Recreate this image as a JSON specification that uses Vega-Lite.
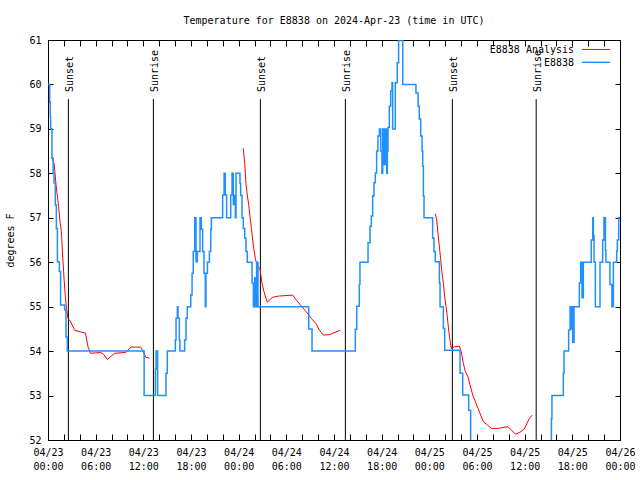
{
  "$schema": "https://vega.github.io/schema/vega-lite/v6.json",
  "width": 572,
  "height": 400,
  "autosize": {"type": "none"},
  "padding": {"left": 48, "top": 40, "right": 20, "bottom": 40},
  "background": "white",
  "title": {"text": "Temperature for E8838 on 2024-Apr-23 (time in UTC)", "font": "DejaVu Sans Mono", "fontSize": 10, "fontWeight": "normal", "color": "black", "baseline": "alphabetic", "offset": 1},
  "config": {
    "view": {"stroke": "black", "strokeWidth": 1},
    "axis": {"grid": false, "domainColor": "black", "domainWidth": 1, "tickColor": "black", "tickWidth": 1, "labelColor": "black", "labelFont": "DejaVu Sans Mono", "labelFontSize": 10, "titleFont": "DejaVu Sans Mono", "titleFontSize": 10, "titleFontWeight": "normal", "titleColor": "black"},
    "text": {"font": "DejaVu Sans Mono", "fontSize": 10, "color": "black"}
  },
  "datasets": {
    "legend": [{"series": "E8838 Analysis"}],
    "sun": [
      {"t": "2024-04-23T02:34:00Z", "label": "Sunset"},
      {"t": "2024-04-23T13:16:00Z", "label": "Sunrise"},
      {"t": "2024-04-24T02:44:00Z", "label": "Sunset"},
      {"t": "2024-04-24T13:26:00Z", "label": "Sunrise"},
      {"t": "2024-04-25T02:54:00Z", "label": "Sunset"},
      {"t": "2024-04-25T13:27:00Z", "label": "Sunrise"}
    ],
    "analysis": [
      {"t": "2024-04-23T00:25:00Z", "v": 58.37, "seg": 1, "series": "E8838 Analysis"},
      {"t": "2024-04-23T00:46:00Z", "v": 58.22, "seg": 1, "series": "E8838 Analysis"},
      {"t": "2024-04-23T01:01:00Z", "v": 57.74, "seg": 1, "series": "E8838 Analysis"},
      {"t": "2024-04-23T01:10:00Z", "v": 57.51, "seg": 1, "series": "E8838 Analysis"},
      {"t": "2024-04-23T01:20:00Z", "v": 57.25, "seg": 1, "series": "E8838 Analysis"},
      {"t": "2024-04-23T01:31:00Z", "v": 56.91, "seg": 1, "series": "E8838 Analysis"},
      {"t": "2024-04-23T01:41:00Z", "v": 56.69, "seg": 1, "series": "E8838 Analysis"},
      {"t": "2024-04-23T01:51:00Z", "v": 56.12, "seg": 1, "series": "E8838 Analysis"},
      {"t": "2024-04-23T02:01:00Z", "v": 55.64, "seg": 1, "series": "E8838 Analysis"},
      {"t": "2024-04-23T02:11:00Z", "v": 55.22, "seg": 1, "series": "E8838 Analysis"},
      {"t": "2024-04-23T02:21:00Z", "v": 54.93, "seg": 1, "series": "E8838 Analysis"},
      {"t": "2024-04-23T02:31:00Z", "v": 54.74, "seg": 1, "series": "E8838 Analysis"},
      {"t": "2024-04-23T02:51:00Z", "v": 54.66, "seg": 1, "series": "E8838 Analysis"},
      {"t": "2024-04-23T03:22:00Z", "v": 54.47, "seg": 1, "series": "E8838 Analysis"},
      {"t": "2024-04-23T04:07:00Z", "v": 54.43, "seg": 1, "series": "E8838 Analysis"},
      {"t": "2024-04-23T04:42:00Z", "v": 54.41, "seg": 1, "series": "E8838 Analysis"},
      {"t": "2024-04-23T05:02:00Z", "v": 54.1, "seg": 1, "series": "E8838 Analysis"},
      {"t": "2024-04-23T05:22:00Z", "v": 53.95, "seg": 1, "series": "E8838 Analysis"},
      {"t": "2024-04-23T06:00:00Z", "v": 53.96, "seg": 1, "series": "E8838 Analysis"},
      {"t": "2024-04-23T06:38:00Z", "v": 53.97, "seg": 1, "series": "E8838 Analysis"},
      {"t": "2024-04-23T07:00:00Z", "v": 53.93, "seg": 1, "series": "E8838 Analysis"},
      {"t": "2024-04-23T07:28:00Z", "v": 53.81, "seg": 1, "series": "E8838 Analysis"},
      {"t": "2024-04-23T07:54:00Z", "v": 53.88, "seg": 1, "series": "E8838 Analysis"},
      {"t": "2024-04-23T08:23:00Z", "v": 53.95, "seg": 1, "series": "E8838 Analysis"},
      {"t": "2024-04-23T09:47:00Z", "v": 53.97, "seg": 1, "series": "E8838 Analysis"},
      {"t": "2024-04-23T10:25:00Z", "v": 54.09, "seg": 1, "series": "E8838 Analysis"},
      {"t": "2024-04-23T11:40:00Z", "v": 54.09, "seg": 1, "series": "E8838 Analysis"},
      {"t": "2024-04-23T12:00:00Z", "v": 53.98, "seg": 1, "series": "E8838 Analysis"},
      {"t": "2024-04-23T12:20:00Z", "v": 53.86, "seg": 1, "series": "E8838 Analysis"},
      {"t": "2024-04-23T12:46:00Z", "v": 53.84, "seg": 1, "series": "E8838 Analysis"},
      {"t": "2024-04-24T00:35:00Z", "v": 58.56, "seg": 2, "series": "E8838 Analysis"},
      {"t": "2024-04-24T00:46:00Z", "v": 58.22, "seg": 2, "series": "E8838 Analysis"},
      {"t": "2024-04-24T00:55:00Z", "v": 57.77, "seg": 2, "series": "E8838 Analysis"},
      {"t": "2024-04-24T01:05:00Z", "v": 57.51, "seg": 2, "series": "E8838 Analysis"},
      {"t": "2024-04-24T01:16:00Z", "v": 57.29, "seg": 2, "series": "E8838 Analysis"},
      {"t": "2024-04-24T01:26:00Z", "v": 57.02, "seg": 2, "series": "E8838 Analysis"},
      {"t": "2024-04-24T01:36:00Z", "v": 56.76, "seg": 2, "series": "E8838 Analysis"},
      {"t": "2024-04-24T01:46:00Z", "v": 56.5, "seg": 2, "series": "E8838 Analysis"},
      {"t": "2024-04-24T01:56:00Z", "v": 56.27, "seg": 2, "series": "E8838 Analysis"},
      {"t": "2024-04-24T02:06:00Z", "v": 56.09, "seg": 2, "series": "E8838 Analysis"},
      {"t": "2024-04-24T02:16:00Z", "v": 55.95, "seg": 2, "series": "E8838 Analysis"},
      {"t": "2024-04-24T02:41:00Z", "v": 55.85, "seg": 2, "series": "E8838 Analysis"},
      {"t": "2024-04-24T02:56:00Z", "v": 55.53, "seg": 2, "series": "E8838 Analysis"},
      {"t": "2024-04-24T03:11:00Z", "v": 55.34, "seg": 2, "series": "E8838 Analysis"},
      {"t": "2024-04-24T03:26:00Z", "v": 55.19, "seg": 2, "series": "E8838 Analysis"},
      {"t": "2024-04-24T03:37:00Z", "v": 55.1, "seg": 2, "series": "E8838 Analysis"},
      {"t": "2024-04-24T03:52:00Z", "v": 55.15, "seg": 2, "series": "E8838 Analysis"},
      {"t": "2024-04-24T04:17:00Z", "v": 55.21, "seg": 2, "series": "E8838 Analysis"},
      {"t": "2024-04-24T05:07:00Z", "v": 55.24, "seg": 2, "series": "E8838 Analysis"},
      {"t": "2024-04-24T05:58:00Z", "v": 55.25, "seg": 2, "series": "E8838 Analysis"},
      {"t": "2024-04-24T06:48:00Z", "v": 55.26, "seg": 2, "series": "E8838 Analysis"},
      {"t": "2024-04-24T07:13:00Z", "v": 55.16, "seg": 2, "series": "E8838 Analysis"},
      {"t": "2024-04-24T07:51:00Z", "v": 55.02, "seg": 2, "series": "E8838 Analysis"},
      {"t": "2024-04-24T08:29:00Z", "v": 54.89, "seg": 2, "series": "E8838 Analysis"},
      {"t": "2024-04-24T09:07:00Z", "v": 54.74, "seg": 2, "series": "E8838 Analysis"},
      {"t": "2024-04-24T09:44:00Z", "v": 54.62, "seg": 2, "series": "E8838 Analysis"},
      {"t": "2024-04-24T10:10:00Z", "v": 54.47, "seg": 2, "series": "E8838 Analysis"},
      {"t": "2024-04-24T10:40:00Z", "v": 54.36, "seg": 2, "series": "E8838 Analysis"},
      {"t": "2024-04-24T11:25:00Z", "v": 54.37, "seg": 2, "series": "E8838 Analysis"},
      {"t": "2024-04-24T12:15:00Z", "v": 54.43, "seg": 2, "series": "E8838 Analysis"},
      {"t": "2024-04-24T12:48:00Z", "v": 54.47, "seg": 2, "series": "E8838 Analysis"},
      {"t": "2024-04-25T00:45:00Z", "v": 57.09, "seg": 3, "series": "E8838 Analysis"},
      {"t": "2024-04-25T00:56:00Z", "v": 56.95, "seg": 3, "series": "E8838 Analysis"},
      {"t": "2024-04-25T01:05:00Z", "v": 56.65, "seg": 3, "series": "E8838 Analysis"},
      {"t": "2024-04-25T01:16:00Z", "v": 56.35, "seg": 3, "series": "E8838 Analysis"},
      {"t": "2024-04-25T01:26:00Z", "v": 56.05, "seg": 3, "series": "E8838 Analysis"},
      {"t": "2024-04-25T01:36:00Z", "v": 55.75, "seg": 3, "series": "E8838 Analysis"},
      {"t": "2024-04-25T01:46:00Z", "v": 55.53, "seg": 3, "series": "E8838 Analysis"},
      {"t": "2024-04-25T01:56:00Z", "v": 55.22, "seg": 3, "series": "E8838 Analysis"},
      {"t": "2024-04-25T02:06:00Z", "v": 55.0, "seg": 3, "series": "E8838 Analysis"},
      {"t": "2024-04-25T02:16:00Z", "v": 54.77, "seg": 3, "series": "E8838 Analysis"},
      {"t": "2024-04-25T02:26:00Z", "v": 54.47, "seg": 3, "series": "E8838 Analysis"},
      {"t": "2024-04-25T02:36:00Z", "v": 54.25, "seg": 3, "series": "E8838 Analysis"},
      {"t": "2024-04-25T02:46:00Z", "v": 54.06, "seg": 3, "series": "E8838 Analysis"},
      {"t": "2024-04-25T03:11:00Z", "v": 54.1, "seg": 3, "series": "E8838 Analysis"},
      {"t": "2024-04-25T03:47:00Z", "v": 54.11, "seg": 3, "series": "E8838 Analysis"},
      {"t": "2024-04-25T04:02:00Z", "v": 53.98, "seg": 3, "series": "E8838 Analysis"},
      {"t": "2024-04-25T04:17:00Z", "v": 53.72, "seg": 3, "series": "E8838 Analysis"},
      {"t": "2024-04-25T04:32:00Z", "v": 53.54, "seg": 3, "series": "E8838 Analysis"},
      {"t": "2024-04-25T04:52:00Z", "v": 53.42, "seg": 3, "series": "E8838 Analysis"},
      {"t": "2024-04-25T05:07:00Z", "v": 53.24, "seg": 3, "series": "E8838 Analysis"},
      {"t": "2024-04-25T05:28:00Z", "v": 53.01, "seg": 3, "series": "E8838 Analysis"},
      {"t": "2024-04-25T05:48:00Z", "v": 52.86, "seg": 3, "series": "E8838 Analysis"},
      {"t": "2024-04-25T06:08:00Z", "v": 52.71, "seg": 3, "series": "E8838 Analysis"},
      {"t": "2024-04-25T06:28:00Z", "v": 52.56, "seg": 3, "series": "E8838 Analysis"},
      {"t": "2024-04-25T06:48:00Z", "v": 52.41, "seg": 3, "series": "E8838 Analysis"},
      {"t": "2024-04-25T07:18:00Z", "v": 52.34, "seg": 3, "series": "E8838 Analysis"},
      {"t": "2024-04-25T07:49:00Z", "v": 52.26, "seg": 3, "series": "E8838 Analysis"},
      {"t": "2024-04-25T08:38:00Z", "v": 52.26, "seg": 3, "series": "E8838 Analysis"},
      {"t": "2024-04-25T09:17:00Z", "v": 52.28, "seg": 3, "series": "E8838 Analysis"},
      {"t": "2024-04-25T09:54:00Z", "v": 52.3, "seg": 3, "series": "E8838 Analysis"},
      {"t": "2024-04-25T10:14:00Z", "v": 52.24, "seg": 3, "series": "E8838 Analysis"},
      {"t": "2024-04-25T10:50:00Z", "v": 52.13, "seg": 3, "series": "E8838 Analysis"},
      {"t": "2024-04-25T11:22:00Z", "v": 52.17, "seg": 3, "series": "E8838 Analysis"},
      {"t": "2024-04-25T11:55:00Z", "v": 52.24, "seg": 3, "series": "E8838 Analysis"},
      {"t": "2024-04-25T12:15:00Z", "v": 52.36, "seg": 3, "series": "E8838 Analysis"},
      {"t": "2024-04-25T12:35:00Z", "v": 52.48, "seg": 3, "series": "E8838 Analysis"},
      {"t": "2024-04-25T12:56:00Z", "v": 52.56, "seg": 3, "series": "E8838 Analysis"}
    ],
    "obs": [
      {"t": "2024-04-23T00:00:00Z", "v": 60.0, "series": "E8838"},
      {"t": "2024-04-23T00:13:00Z", "v": 59.6, "series": "E8838"},
      {"t": "2024-04-23T00:17:00Z", "v": 59.27, "series": "E8838"},
      {"t": "2024-04-23T00:20:00Z", "v": 59.0, "series": "E8838"},
      {"t": "2024-04-23T00:30:00Z", "v": 58.34, "series": "E8838"},
      {"t": "2024-04-23T00:39:00Z", "v": 58.0, "series": "E8838"},
      {"t": "2024-04-23T00:46:00Z", "v": 57.78, "series": "E8838"},
      {"t": "2024-04-23T00:55:00Z", "v": 57.29, "series": "E8838"},
      {"t": "2024-04-23T01:03:00Z", "v": 56.76, "series": "E8838"},
      {"t": "2024-04-23T01:11:00Z", "v": 56.01, "series": "E8838"},
      {"t": "2024-04-23T01:26:00Z", "v": 55.79, "series": "E8838"},
      {"t": "2024-04-23T01:35:00Z", "v": 55.04, "series": "E8838"},
      {"t": "2024-04-23T02:06:00Z", "v": 54.93, "series": "E8838"},
      {"t": "2024-04-23T02:16:00Z", "v": 54.32, "series": "E8838"},
      {"t": "2024-04-23T02:26:00Z", "v": 54.0, "series": "E8838"},
      {"t": "2024-04-23T12:06:00Z", "v": 53.0, "series": "E8838"},
      {"t": "2024-04-23T13:31:00Z", "v": 53.6, "series": "E8838"},
      {"t": "2024-04-23T13:36:00Z", "v": 54.0, "series": "E8838"},
      {"t": "2024-04-23T13:48:00Z", "v": 53.0, "series": "E8838"},
      {"t": "2024-04-23T14:51:00Z", "v": 53.5, "series": "E8838"},
      {"t": "2024-04-23T15:01:00Z", "v": 54.0, "series": "E8838"},
      {"t": "2024-04-23T16:02:00Z", "v": 54.25, "series": "E8838"},
      {"t": "2024-04-23T16:07:00Z", "v": 54.74, "series": "E8838"},
      {"t": "2024-04-23T16:17:00Z", "v": 55.0, "series": "E8838"},
      {"t": "2024-04-23T16:22:00Z", "v": 54.74, "series": "E8838"},
      {"t": "2024-04-23T16:32:00Z", "v": 54.25, "series": "E8838"},
      {"t": "2024-04-23T16:36:00Z", "v": 54.0, "series": "E8838"},
      {"t": "2024-04-23T17:12:00Z", "v": 54.25, "series": "E8838"},
      {"t": "2024-04-23T17:22:00Z", "v": 54.74, "series": "E8838"},
      {"t": "2024-04-23T17:32:00Z", "v": 55.0, "series": "E8838"},
      {"t": "2024-04-23T17:58:00Z", "v": 55.26, "series": "E8838"},
      {"t": "2024-04-23T18:08:00Z", "v": 55.75, "series": "E8838"},
      {"t": "2024-04-23T18:17:00Z", "v": 56.24, "series": "E8838"},
      {"t": "2024-04-23T18:28:00Z", "v": 57.0, "series": "E8838"},
      {"t": "2024-04-23T18:38:00Z", "v": 56.01, "series": "E8838"},
      {"t": "2024-04-23T18:48:00Z", "v": 56.24, "series": "E8838"},
      {"t": "2024-04-23T19:08:00Z", "v": 57.0, "series": "E8838"},
      {"t": "2024-04-23T19:18:00Z", "v": 56.74, "series": "E8838"},
      {"t": "2024-04-23T19:28:00Z", "v": 56.24, "series": "E8838"},
      {"t": "2024-04-23T19:38:00Z", "v": 55.75, "series": "E8838"},
      {"t": "2024-04-23T19:48:00Z", "v": 55.0, "series": "E8838"},
      {"t": "2024-04-23T19:53:00Z", "v": 55.75, "series": "E8838"},
      {"t": "2024-04-23T20:04:00Z", "v": 56.0, "series": "E8838"},
      {"t": "2024-04-23T20:19:00Z", "v": 56.24, "series": "E8838"},
      {"t": "2024-04-23T20:29:00Z", "v": 56.74, "series": "E8838"},
      {"t": "2024-04-23T20:34:00Z", "v": 57.0, "series": "E8838"},
      {"t": "2024-04-23T21:59:00Z", "v": 57.51, "series": "E8838"},
      {"t": "2024-04-23T22:10:00Z", "v": 58.0, "series": "E8838"},
      {"t": "2024-04-23T22:19:00Z", "v": 57.51, "series": "E8838"},
      {"t": "2024-04-23T22:29:00Z", "v": 57.0, "series": "E8838"},
      {"t": "2024-04-23T23:00:00Z", "v": 57.51, "series": "E8838"},
      {"t": "2024-04-23T23:10:00Z", "v": 58.0, "series": "E8838"},
      {"t": "2024-04-23T23:20:00Z", "v": 57.3, "series": "E8838"},
      {"t": "2024-04-23T23:30:00Z", "v": 57.5, "series": "E8838"},
      {"t": "2024-04-23T23:35:00Z", "v": 57.0, "series": "E8838"},
      {"t": "2024-04-23T23:40:00Z", "v": 58.0, "series": "E8838"},
      {"t": "2024-04-24T00:10:00Z", "v": 57.77, "series": "E8838"},
      {"t": "2024-04-24T00:15:00Z", "v": 57.5, "series": "E8838"},
      {"t": "2024-04-24T00:25:00Z", "v": 57.0, "series": "E8838"},
      {"t": "2024-04-24T00:35:00Z", "v": 56.76, "series": "E8838"},
      {"t": "2024-04-24T00:46:00Z", "v": 56.54, "series": "E8838"},
      {"t": "2024-04-24T00:55:00Z", "v": 56.24, "series": "E8838"},
      {"t": "2024-04-24T01:05:00Z", "v": 56.0, "series": "E8838"},
      {"t": "2024-04-24T01:41:00Z", "v": 55.53, "series": "E8838"},
      {"t": "2024-04-24T01:51:00Z", "v": 55.0, "series": "E8838"},
      {"t": "2024-04-24T02:01:00Z", "v": 55.65, "series": "E8838"},
      {"t": "2024-04-24T02:11:00Z", "v": 55.0, "series": "E8838"},
      {"t": "2024-04-24T02:16:00Z", "v": 56.0, "series": "E8838"},
      {"t": "2024-04-24T02:26:00Z", "v": 55.0, "series": "E8838"},
      {"t": "2024-04-24T08:49:00Z", "v": 54.5, "series": "E8838"},
      {"t": "2024-04-24T09:14:00Z", "v": 54.0, "series": "E8838"},
      {"t": "2024-04-24T14:41:00Z", "v": 54.49, "series": "E8838"},
      {"t": "2024-04-24T14:52:00Z", "v": 55.01, "series": "E8838"},
      {"t": "2024-04-24T15:11:00Z", "v": 55.5, "series": "E8838"},
      {"t": "2024-04-24T15:16:00Z", "v": 56.0, "series": "E8838"},
      {"t": "2024-04-24T16:17:00Z", "v": 56.44, "series": "E8838"},
      {"t": "2024-04-24T16:32:00Z", "v": 56.81, "series": "E8838"},
      {"t": "2024-04-24T16:42:00Z", "v": 57.04, "series": "E8838"},
      {"t": "2024-04-24T16:52:00Z", "v": 57.49, "series": "E8838"},
      {"t": "2024-04-24T17:02:00Z", "v": 57.79, "series": "E8838"},
      {"t": "2024-04-24T17:12:00Z", "v": 58.01, "series": "E8838"},
      {"t": "2024-04-24T17:22:00Z", "v": 58.5, "series": "E8838"},
      {"t": "2024-04-24T17:32:00Z", "v": 58.84, "series": "E8838"},
      {"t": "2024-04-24T17:43:00Z", "v": 59.0, "series": "E8838"},
      {"t": "2024-04-24T17:53:00Z", "v": 58.5, "series": "E8838"},
      {"t": "2024-04-24T18:02:00Z", "v": 58.0, "series": "E8838"},
      {"t": "2024-04-24T18:08:00Z", "v": 59.0, "series": "E8838"},
      {"t": "2024-04-24T18:18:00Z", "v": 58.2, "series": "E8838"},
      {"t": "2024-04-24T18:28:00Z", "v": 59.0, "series": "E8838"},
      {"t": "2024-04-24T18:38:00Z", "v": 58.0, "series": "E8838"},
      {"t": "2024-04-24T18:43:00Z", "v": 58.5, "series": "E8838"},
      {"t": "2024-04-24T18:48:00Z", "v": 59.03, "series": "E8838"},
      {"t": "2024-04-24T18:58:00Z", "v": 59.51, "series": "E8838"},
      {"t": "2024-04-24T19:08:00Z", "v": 59.85, "series": "E8838"},
      {"t": "2024-04-24T19:18:00Z", "v": 60.04, "series": "E8838"},
      {"t": "2024-04-24T19:23:00Z", "v": 59.0, "series": "E8838"},
      {"t": "2024-04-24T19:43:00Z", "v": 60.04, "series": "E8838"},
      {"t": "2024-04-24T19:58:00Z", "v": 60.49, "series": "E8838"},
      {"t": "2024-04-24T20:08:00Z", "v": 61.0, "series": "E8838"},
      {"t": "2024-04-24T20:39:00Z", "v": 60.0, "series": "E8838"},
      {"t": "2024-04-24T22:19:00Z", "v": 59.81, "series": "E8838"},
      {"t": "2024-04-24T22:35:00Z", "v": 59.51, "series": "E8838"},
      {"t": "2024-04-24T22:44:00Z", "v": 59.22, "series": "E8838"},
      {"t": "2024-04-24T22:55:00Z", "v": 58.84, "series": "E8838"},
      {"t": "2024-04-24T23:05:00Z", "v": 58.5, "series": "E8838"},
      {"t": "2024-04-24T23:10:00Z", "v": 58.16, "series": "E8838"},
      {"t": "2024-04-24T23:15:00Z", "v": 57.49, "series": "E8838"},
      {"t": "2024-04-24T23:20:00Z", "v": 57.0, "series": "E8838"},
      {"t": "2024-04-25T00:25:00Z", "v": 56.54, "series": "E8838"},
      {"t": "2024-04-25T00:35:00Z", "v": 56.24, "series": "E8838"},
      {"t": "2024-04-25T00:45:00Z", "v": 56.01, "series": "E8838"},
      {"t": "2024-04-25T01:16:00Z", "v": 55.53, "series": "E8838"},
      {"t": "2024-04-25T01:21:00Z", "v": 55.0, "series": "E8838"},
      {"t": "2024-04-25T01:46:00Z", "v": 54.51, "series": "E8838"},
      {"t": "2024-04-25T01:56:00Z", "v": 54.02, "series": "E8838"},
      {"t": "2024-04-25T03:52:00Z", "v": 53.5, "series": "E8838"},
      {"t": "2024-04-25T04:12:00Z", "v": 53.01, "series": "E8838"},
      {"t": "2024-04-25T04:57:00Z", "v": 52.67, "series": "E8838"},
      {"t": "2024-04-25T05:12:00Z", "v": 51.0, "series": "E8838"},
      {"t": "2024-04-25T15:22:00Z", "v": 52.48, "series": "E8838"},
      {"t": "2024-04-25T15:26:00Z", "v": 53.0, "series": "E8838"},
      {"t": "2024-04-25T16:52:00Z", "v": 53.5, "series": "E8838"},
      {"t": "2024-04-25T16:57:00Z", "v": 54.0, "series": "E8838"},
      {"t": "2024-04-25T17:32:00Z", "v": 54.47, "series": "E8838"},
      {"t": "2024-04-25T17:43:00Z", "v": 55.0, "series": "E8838"},
      {"t": "2024-04-25T17:47:00Z", "v": 54.5, "series": "E8838"},
      {"t": "2024-04-25T17:58:00Z", "v": 55.0, "series": "E8838"},
      {"t": "2024-04-25T18:03:00Z", "v": 54.2, "series": "E8838"},
      {"t": "2024-04-25T18:13:00Z", "v": 55.0, "series": "E8838"},
      {"t": "2024-04-25T18:53:00Z", "v": 55.53, "series": "E8838"},
      {"t": "2024-04-25T19:03:00Z", "v": 56.0, "series": "E8838"},
      {"t": "2024-04-25T19:13:00Z", "v": 55.2, "series": "E8838"},
      {"t": "2024-04-25T19:23:00Z", "v": 56.0, "series": "E8838"},
      {"t": "2024-04-25T20:23:00Z", "v": 56.5, "series": "E8838"},
      {"t": "2024-04-25T20:34:00Z", "v": 57.0, "series": "E8838"},
      {"t": "2024-04-25T20:39:00Z", "v": 56.6, "series": "E8838"},
      {"t": "2024-04-25T20:44:00Z", "v": 56.0, "series": "E8838"},
      {"t": "2024-04-25T20:54:00Z", "v": 55.0, "series": "E8838"},
      {"t": "2024-04-25T21:29:00Z", "v": 56.0, "series": "E8838"},
      {"t": "2024-04-25T21:49:00Z", "v": 56.5, "series": "E8838"},
      {"t": "2024-04-25T21:59:00Z", "v": 57.0, "series": "E8838"},
      {"t": "2024-04-25T22:10:00Z", "v": 56.27, "series": "E8838"},
      {"t": "2024-04-25T22:14:00Z", "v": 56.0, "series": "E8838"},
      {"t": "2024-04-25T22:44:00Z", "v": 55.5, "series": "E8838"},
      {"t": "2024-04-25T22:59:00Z", "v": 55.0, "series": "E8838"},
      {"t": "2024-04-25T23:10:00Z", "v": 56.0, "series": "E8838"},
      {"t": "2024-04-25T23:35:00Z", "v": 56.25, "series": "E8838"},
      {"t": "2024-04-25T23:40:00Z", "v": 56.5, "series": "E8838"},
      {"t": "2024-04-25T23:50:00Z", "v": 57.0, "series": "E8838"},
      {"t": "2024-04-26T00:00:00Z", "v": 57.0, "series": "E8838"}
    ]
  },
  "layer": [
    {
      "data": {"name": "sun"},
      "mark": {"type": "rule", "color": "black", "strokeWidth": 1},
      "encoding": {
        "x": {"field": "t", "type": "temporal", "axis": null, "scale": {"type": "utc", "domain": [1713830400000, 1714089600000], "nice": false}},
        "y": {"datum": 52, "type": "quantitative", "axis": null, "scale": {"domain": [52, 61], "nice": false, "zero": false}},
        "y2": {"datum": 59.67}
      }
    },
    {
      "data": {"name": "sun"},
      "mark": {"type": "text", "angle": 270, "align": "left", "baseline": "alphabetic", "dy": 5, "font": "DejaVu Sans Mono", "fontSize": 10, "color": "black"},
      "encoding": {
        "x": {"field": "t", "type": "temporal", "axis": null},
        "y": {"datum": 59.83, "type": "quantitative", "axis": null},
        "text": {"field": "label"}
      }
    },
    {
      "data": {"name": "analysis"},
      "mark": {"type": "line", "strokeWidth": 1, "interpolate": "linear", "clip": true},
      "encoding": {
        "x": {"field": "t", "type": "temporal", "scale": {"type": "utc", "domain": [1713830400000, 1714089600000], "nice": false},
          "axis": {"orient": "top", "title": null, "labels": false, "tickSize": -6,
            "values": [1713830400000, 1713837600000, 1713844800000, 1713852000000, 1713859200000, 1713866400000, 1713873600000, 1713880800000, 1713888000000, 1713895200000, 1713902400000, 1713909600000, 1713916800000, 1713924000000, 1713931200000, 1713938400000, 1713945600000, 1713952800000, 1713960000000, 1713967200000, 1713974400000, 1713981600000, 1713988800000, 1713996000000, 1714003200000, 1714010400000, 1714017600000, 1714024800000, 1714032000000, 1714039200000, 1714046400000, 1714053600000, 1714060800000, 1714068000000, 1714075200000, 1714082400000, 1714089600000],
            "encode": {"ticks": {"update": {"y2": {"signal": "utchours(datum.value) % 6 == 0 ? 6 : 3"}}}}}},
        "y": {"field": "v", "type": "quantitative", "scale": {"domain": [52, 61], "nice": false, "zero": false},
          "axis": {"orient": "right", "title": null, "labels": false, "tickSize": -5, "values": [52, 53, 54, 55, 56, 57, 58, 59, 60, 61]}},
        "color": {"field": "series", "type": "nominal", "scale": {"domain": ["E8838 Analysis", "E8838"], "range": ["#ff0000", "#1e90ff"]}, "legend": null},
        "detail": {"field": "seg", "type": "nominal"}
      }
    },
    {
      "data": {"name": "obs"},
      "mark": {"type": "line", "strokeWidth": 1.5, "interpolate": "step-after", "clip": true},
      "encoding": {
        "x": {"field": "t", "type": "temporal",
          "axis": {"orient": "bottom", "title": null, "tickSize": -6, "labelPadding": 13,
            "values": [1713830400000, 1713837600000, 1713844800000, 1713852000000, 1713859200000, 1713866400000, 1713873600000, 1713880800000, 1713888000000, 1713895200000, 1713902400000, 1713909600000, 1713916800000, 1713924000000, 1713931200000, 1713938400000, 1713945600000, 1713952800000, 1713960000000, 1713967200000, 1713974400000, 1713981600000, 1713988800000, 1713996000000, 1714003200000, 1714010400000, 1714017600000, 1714024800000, 1714032000000, 1714039200000, 1714046400000, 1714053600000, 1714060800000, 1714068000000, 1714075200000, 1714082400000, 1714089600000],
            "labelExpr": "utchours(datum.value) % 6 == 0 ? [utcFormat(datum.value, '%m/%d'), utcFormat(datum.value, '%H:%M')] : ''",
            "labelLineHeight": 14, "labelOverlap": false, "labelFlush": false, "labelBound": false,
            "encode": {"ticks": {"update": {"y2": {"signal": "utchours(datum.value) % 6 == 0 ? -6 : -3"}}}}}},
        "y": {"field": "v", "type": "quantitative",
          "axis": {"orient": "left", "title": "degrees F", "titleX": -38, "titleY": 200, "titleAngle": 270, "titleBaseline": "middle", "titleAlign": "center",
            "values": [52, 53, 54, 55, 56, 57, 58, 59, 60, 61], "format": "d", "tickSize": -5, "labelPadding": 12}},
        "color": {"field": "series", "type": "nominal", "legend": null}
      }
    },
    {
      "data": {"name": "legend"},
      "mark": {"type": "text", "text": "E8838 Analysis", "align": "right", "baseline": "middle", "font": "DejaVu Sans Mono", "fontSize": 10, "color": "black"},
      "encoding": {
        "x": {"datum": 1714068780000, "type": "temporal", "axis": null},
        "y": {"datum": 60.775, "type": "quantitative", "axis": null}
      }
    },
    {
      "data": {"name": "legend"},
      "mark": {"type": "rule", "color": "#ff0000", "strokeWidth": 1},
      "encoding": {
        "x": {"datum": 1714072380000, "type": "temporal", "axis": null},
        "x2": {"datum": 1714085040000},
        "y": {"datum": 60.787, "type": "quantitative", "axis": null}
      }
    },
    {
      "data": {"name": "legend"},
      "mark": {"type": "text", "text": "E8838", "align": "right", "baseline": "middle", "font": "DejaVu Sans Mono", "fontSize": 10, "color": "black"},
      "encoding": {
        "x": {"datum": 1714068780000, "type": "temporal", "axis": null},
        "y": {"datum": 60.49, "type": "quantitative", "axis": null}
      }
    },
    {
      "data": {"name": "legend"},
      "mark": {"type": "rule", "color": "#1e90ff", "strokeWidth": 1.5},
      "encoding": {
        "x": {"datum": 1714072380000, "type": "temporal", "axis": null},
        "x2": {"datum": 1714085040000},
        "y": {"datum": 60.498, "type": "quantitative", "axis": null}
      }
    }
  ],
  "resolve": {"axis": {"x": "independent", "y": "independent"}}
}
